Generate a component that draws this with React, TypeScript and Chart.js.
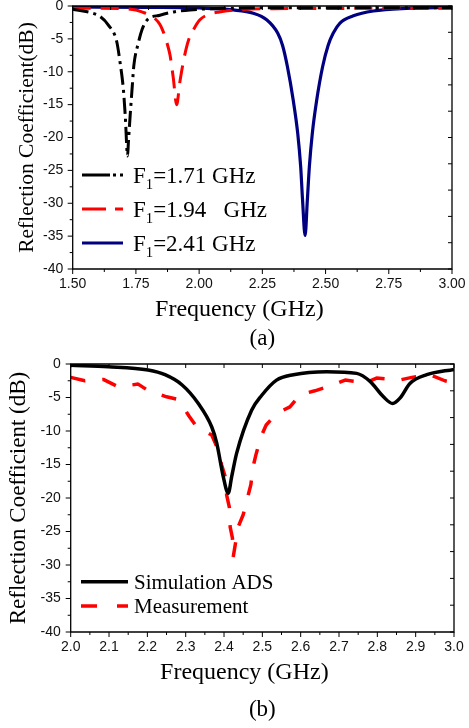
import React, { useEffect, useRef } from 'react';
import { Chart, registerables } from 'chart.js';
Chart.register(...registerables);

// ---------- DATA ----------
// Panel (a)
const freqA1 = [1.50, 1.57, 1.608, 1.641, 1.674, 1.687, 1.700, 1.708, 1.717, 1.720, 1.727, 1.735, 1.742, 1.759, 1.775, 1.795, 1.845, 1.90, 1.964, 2.10, 2.50, 3.00];
const s11A1 = [-0.5, -1.0, -1.6, -2.9, -5.4, -8.5, -12.5, -16.8, -22.8, -20.9, -16.8, -12.5, -9.0, -5.7, -3.5, -2.1, -1.4, -0.9, -0.6, -0.35, -0.25, -0.25];

const freqA2 = [1.50, 1.70, 1.75, 1.773, 1.80, 1.825, 1.845, 1.858, 1.872, 1.885, 1.898, 1.911, 1.924, 1.940, 1.958, 1.977, 2.003, 2.03, 2.08, 2.15, 2.30, 3.00];
const s11A2 = [-0.35, -0.4, -0.6, -0.9, -1.3, -1.9, -2.8, -3.9, -5.5, -7.5, -11.0, -15.0, -11.5, -8.0, -5.2, -3.65, -2.1, -1.4, -0.9, -0.6, -0.4, -0.35];

const freqA3 = [1.50, 1.80, 2.00, 2.135, 2.214, 2.267, 2.311, 2.33, 2.349, 2.372, 2.39, 2.4015, 2.409, 2.419, 2.428, 2.436, 2.4475, 2.465, 2.4885, 2.51, 2.530, 2.557, 2.61, 2.689, 2.82, 3.00];
const s11A3 = [-0.15, -0.2, -0.3, -0.6, -1.1, -2.1, -4.15, -6.0, -9.2, -14.3, -19.4, -24.4, -29.5, -34.9, -29.5, -24.4, -19.4, -14.3, -9.2, -6.0, -4.15, -2.6, -1.5, -0.76, -0.35, -0.2];

const legendA = ['F₁=1.71 GHz', 'F₁=1.94   GHz', 'F₁=2.41 GHz'];

// Panel (b)
const freqSim = [2.00, 2.098, 2.202, 2.246, 2.29, 2.333, 2.368, 2.381, 2.398, 2.411, 2.42, 2.433, 2.472, 2.498, 2.537, 2.581, 2.668, 2.746, 2.781, 2.816, 2.84, 2.859, 2.885, 2.929, 3.00];
const s11Sim = [-0.2, -0.4, -0.9, -1.6, -3.1, -5.9, -9.4, -11.8, -16.8, -19.3, -16.8, -13.3, -6.9, -4.7, -2.4, -1.6, -1.15, -1.4, -2.6, -4.9, -5.9, -5.1, -2.9, -1.6, -0.8];

const freqMeas = [2.000, 2.037, 2.085, 2.124, 2.176, 2.203, 2.25, 2.281, 2.309, 2.329, 2.368, 2.381, 2.394, 2.403, 2.407, 2.414, 2.416, 2.422, 2.424, 2.437, 2.45, 2.462, 2.47, 2.476, 2.483, 2.496, 2.51, 2.537, 2.572, 2.598, 2.637, 2.676, 2.716, 2.77, 2.798, 2.857, 2.89, 2.937, 2.976, 3.0];
const s11Meas = [-2.0, -2.5, -2.3, -3.4, -3.0, -4.0, -4.9, -5.3, -7.8, -9.4, -10.6, -12.3, -15.1, -16.8, -19.6, -21.4, -24.3, -26.0, -28.8, -24.3, -22.5, -19.8, -18.0, -15.3, -13.6, -10.9, -9.1, -7.4, -6.4, -4.6, -4.0, -3.3, -2.4, -2.8, -2.1, -2.4, -2.0, -1.6, -2.5, -2.8];

const legendB = ['Simulation ADS', 'Measurement'];

// Axis ranges / tick steps
const xRangeA = [1.5, 3.0]; const xStepA = 0.25;
const xRangeB = [2.0, 3.0]; const xStepB = 0.1;
const yRange = [-40, 0]; const yStep = 5;

const SANS = "'Liberation Sans', Arial, sans-serif";
const SERIF = "'Liberation Serif', 'Times New Roman', serif";

const pts = (xs: number[], ys: number[]) => xs.map((x, i) => ({ x, y: ys[i] }));

// ---------- PLUGINS ----------
const frameTicks = {
  id: 'frameTicks',
  afterDatasetsDraw(chart: any, _a: any, o: any) {
    const { ctx, chartArea: a, scales } = chart;
    const xs = scales.x, ys = scales.y;
    ctx.save();
    ctx.strokeStyle = '#000';
    ctx.lineWidth = 1.3;
    ctx.setLineDash([]);
    ctx.beginPath();
    ctx.rect(a.left, a.top, a.right - a.left, a.bottom - a.top);
    ctx.stroke();
    ctx.lineWidth = 1;
    ctx.beginPath();
    const maj = 5, min = 3;
    const xt = xs.ticks;
    xt.forEach((t: any, i: number) => {
      const p = xs.getPixelForValue(t.value);
      ctx.moveTo(p, a.bottom); ctx.lineTo(p, a.bottom + maj);
      if (i < xt.length - 1) {
        const m = xs.getPixelForValue((t.value + xt[i + 1].value) / 2);
        ctx.moveTo(m, a.bottom); ctx.lineTo(m, a.bottom + min);
      }
    });
    const yt = ys.ticks;
    yt.forEach((t: any, i: number) => {
      const p = ys.getPixelForValue(t.value);
      ctx.moveTo(a.left, p); ctx.lineTo(a.left - maj, p);
      if (i < yt.length - 1) {
        const m = ys.getPixelForValue((t.value + yt[i + 1].value) / 2);
        ctx.moveTo(a.left, m); ctx.lineTo(a.left - min, m);
      }
    });
    const n = o.divisions;
    for (let k = 0; k <= n; k++) {
      const xv = xs.min + ((xs.max - xs.min) * k) / n;
      const px = xs.getPixelForValue(xv);
      ctx.moveTo(px, a.top); ctx.lineTo(px, a.top + 4);
      const yv = ys.min + ((ys.max - ys.min) * k) / n;
      const py = ys.getPixelForValue(yv);
      ctx.moveTo(a.right, py); ctx.lineTo(a.right - 4, py);
    }
    ctx.stroke();
    ctx.restore();
  },
};

const innerLegend = {
  id: 'innerLegend',
  afterDatasetsDraw(chart: any, _a: any, o: any) {
    const { ctx, chartArea: a } = chart;
    const ds = chart.data.datasets;
    const n = ds.length;
    ctx.save();
    ds.forEach((d: any, i: number) => {
      const y = a.bottom - o.bottomOffset - (n - 1 - i) * o.rowH;
      const x0 = a.left + o.x0;
      ctx.strokeStyle = d.borderColor;
      ctx.lineWidth = d.borderWidth;
      ctx.lineCap = 'butt';
      ctx.setLineDash(o.dashes[i] || []);
      ctx.beginPath();
      ctx.moveTo(x0, y);
      ctx.lineTo(x0 + o.lineLen, y);
      ctx.stroke();
      ctx.setLineDash([]);
      ctx.fillStyle = '#000';
      ctx.textBaseline = 'alphabetic';
      ctx.textAlign = 'left';
      const base = y + (o.fontSize * 0.662) / 2;
      let tx = x0 + o.lineLen + o.gap;
      const parts = String(d.label).split('₁');
      parts.forEach((p: string, j: number) => {
        ctx.font = `${o.fontSize}px ${SERIF}`;
        ctx.fillText(p, tx, base);
        tx += ctx.measureText(p).width;
        if (j < parts.length - 1) {
          ctx.font = `${o.fontSize * 0.64}px ${SERIF}`;
          ctx.fillText('1', tx, base + o.fontSize * 0.28);
          tx += ctx.measureText('1').width;
        }
      });
    });
    ctx.restore();
  },
};

const captions = {
  id: 'captions',
  afterDraw(chart: any, _a: any, o: any) {
    const { ctx, chartArea: a } = chart;
    const cx = (a.left + a.right) / 2;
    ctx.save();
    ctx.fillStyle = '#000';
    ctx.textAlign = 'center';
    ctx.textBaseline = 'middle';
    ctx.font = `${o.titleSize}px ${SERIF}`;
    ctx.fillText(o.title, cx + o.titleDx, a.bottom + o.titleDy);
    ctx.font = `${o.panelSize}px ${SERIF}`;
    ctx.fillText(o.panel, cx, a.bottom + o.panelDy);
    ctx.restore();
  },
};

// ---------- CHART CONFIG ----------
function makeConfig(p: any) {
  return {
    type: 'line',
    data: { datasets: p.datasets },
    plugins: [frameTicks, innerLegend, captions],
    options: {
      animation: false,
      responsive: false,
      devicePixelRatio: 1,
      layout: { padding: { top: p.padTop, right: p.padRight, left: 0, bottom: 0 } },
      elements: { point: { radius: 0 } },
      plugins: {
        legend: { display: false },
        tooltip: { enabled: false },
        title: { display: false },
        frameTicks: { divisions: 10 },
        innerLegend: p.legend,
        captions: p.captions,
      },
      scales: {
        x: {
          type: 'linear',
          min: p.xRange[0],
          max: p.xRange[1],
          grid: { display: false, drawTicks: false },
          border: { display: false },
          ticks: {
            stepSize: p.xStep,
            autoSkip: false,
            maxRotation: 0,
            padding: 6.5,
            color: '#111',
            font: { family: SANS, size: 14 },
            callback: (v: any) => Number(v).toFixed(p.xDec),
          },
          afterFit: (s: any) => {
            s.height = p.xHeight;
            s.paddingLeft = 0;
            s.paddingRight = 0;
          },
        },
        y: {
          type: 'linear',
          min: yRange[0],
          max: yRange[1],
          grid: { display: false, drawTicks: false },
          border: { display: false },
          ticks: {
            stepSize: yStep,
            padding: p.yPad,
            color: '#111',
            font: { family: SANS, size: 14 },
            callback: (v: any) => String(Math.round(Number(v))),
          },
          title: {
            display: true,
            text: p.yTitle,
            color: '#000',
            font: { family: SERIF, size: p.yTitleSize, lineHeight: 1.2 },
            padding: { top: p.yTitlePad, bottom: 0 },
          },
          afterFit: (s: any) => {
            s.width = p.yWidth;
            s.paddingTop = 0;
            s.paddingBottom = 0;
          },
        },
      },
    },
  };
}

function ChartCanvas({ config, width, height }: any) {
  const ref = useRef<HTMLCanvasElement | null>(null);
  useEffect(() => {
    if (!ref.current) return;
    const c = new Chart(ref.current, config);
    return () => c.destroy();
  }, []);
  return <canvas ref={ref} width={width} height={height} style={{ display: 'block', width, height }} />;
}

const configA = makeConfig({
  datasets: [
    { label: legendA[0], data: pts(freqA1, s11A1), borderColor: '#000000', borderWidth: 3, borderDash: [16, 5, 3, 5], cubicInterpolationMode: 'monotone', fill: false, borderCapStyle: 'butt', borderJoinStyle: 'bevel' },
    { label: legendA[1], data: pts(freqA2, s11A2), borderColor: '#ff0000', borderWidth: 3, borderDash: [18, 10], cubicInterpolationMode: 'monotone', fill: false, borderCapStyle: 'butt', borderJoinStyle: 'bevel' },
    { label: legendA[2], data: pts(freqA3, s11A3), borderColor: '#000080', borderWidth: 3.2, cubicInterpolationMode: 'monotone', fill: false, borderJoinStyle: 'bevel' },
  ],
  padTop: 6,
  padRight: 17,
  xRange: xRangeA,
  xStep: xStepA,
  xDec: 2,
  xHeight: 86,
  yWidth: 72.7,
  yPad: 9.5,
  yTitle: 'Reflection Coefficient(dB)',
  yTitleSize: 21.5,
  yTitlePad: 14.9,
  legend: { x0: 9.3, lineLen: 41, gap: 10, rowH: 34, bottomOffset: 26, fontSize: 23, dashes: [[28, 3, 3, 4], [24, 9], []] },
  captions: { title: 'Frequency (GHz)', titleSize: 24, titleDx: -23, titleDy: 41, panel: '(a)', panelSize: 23, panelDy: 70 },
});

const configB = makeConfig({
  datasets: [
    { label: legendB[0], data: pts(freqSim, s11Sim), borderColor: '#000000', borderWidth: 3.5, cubicInterpolationMode: 'monotone', fill: false, borderJoinStyle: 'bevel' },
    { label: legendB[1], data: pts(freqMeas, s11Meas), borderColor: '#ff0000', borderWidth: 3.5, borderDash: [15, 17], tension: 0, fill: false, borderCapStyle: 'butt', borderJoinStyle: 'bevel' },
  ],
  padTop: 9,
  padRight: 15,
  xRange: xRangeB,
  xStep: xStepB,
  xDec: 1,
  xHeight: 96,
  yWidth: 70.7,
  yPad: 10,
  yTitle: 'Reflection Coefficient (dB)',
  yTitleSize: 23,
  yTitlePad: 5,
  legend: { x0: 10.3, lineLen: 47, gap: 6, rowH: 24.3, bottomOffset: 26, fontSize: 21, dashes: [[], [16, 20]] },
  captions: { title: 'Frequency (GHz)', titleSize: 24, titleDx: -18, titleDy: 41, panel: '(b)', panelSize: 23, panelDy: 78 },
});

export default function App() {
  return (
    <div style={{ position: 'absolute', left: 0, top: 0, width: 469, height: 728, background: '#fff' }}>
      <ChartCanvas config={configA} width={469} height={355} />
      <ChartCanvas config={configB} width={469} height={373} />
    </div>
  );
}
